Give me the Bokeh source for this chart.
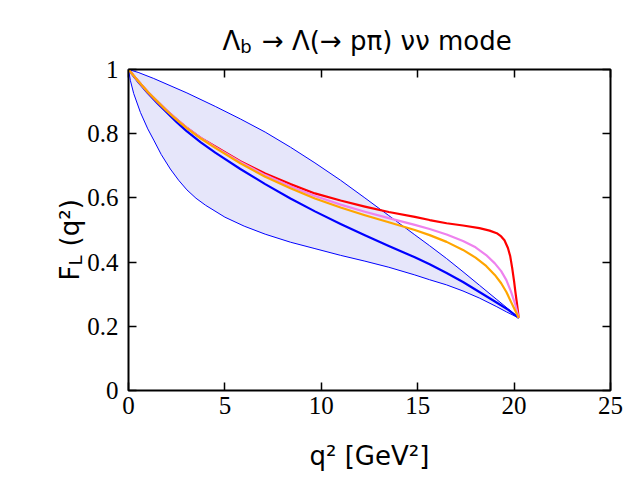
import math
from bokeh.plotting import figure
from bokeh.models import Range1d, LinearAxis, FixedTicker, Label
from bokeh.embed import file_html
from bokeh.resources import INLINE

# ---------------- data ----------------
x_ticks = [0, 5, 10, 15, 20, 25]
y_ticks = [0, 0.2, 0.4, 0.6, 0.8, 1.0]
y_tick_labels = ["0", "0.2", "0.4", "0.6", "0.8", "1"]

# band: upper edge
band_hi_q2 = [0, 0.5, 1.31, 3.03, 4.5, 5.8, 7.09, 8.4, 9.67, 11.0, 12.26, 13.5,
              14.85, 15.62, 16.5, 17.35, 18.2, 19.07, 19.7, 20.24]
band_hi_fl = [1.0, 0.991, 0.972, 0.927, 0.885, 0.846, 0.805, 0.758, 0.709, 0.655,
              0.600, 0.545, 0.485, 0.451, 0.411, 0.370, 0.328, 0.285, 0.254, 0.226]

# band: lower edge
band_lo_q2 = [0, 0.1, 0.27, 0.62, 1.0, 1.31, 1.7, 2.17, 2.6, 3.03, 3.5, 4.0, 5.0,
              6.0, 7.09, 8.4, 9.67, 11.0, 12.26, 13.5, 14.85, 15.62, 16.5, 17.35,
              18.2, 19.07, 19.6, 20.24]
band_lo_fl = [1.0, 0.965, 0.925, 0.866, 0.815, 0.78, 0.735, 0.69, 0.655, 0.625,
              0.599, 0.577, 0.54, 0.512, 0.487, 0.462, 0.442, 0.421, 0.403, 0.384,
              0.360, 0.345, 0.329, 0.310, 0.288, 0.262, 0.245, 0.226]

# central blue curve
blue_q2 = [0, 0.5, 1, 1.5, 2, 2.5, 3, 3.75, 4.5, 5.8, 7.09, 8.4, 9.67, 11.0, 12.26,
           13.5, 14.85, 15.62, 16.5, 17.35, 18.2, 19.07, 19.7, 20.24]
blue_fl = [1.0, 0.962, 0.927, 0.895, 0.865, 0.836, 0.809, 0.773, 0.741, 0.69,
           0.643, 0.598, 0.558, 0.519, 0.484, 0.450, 0.415, 0.393, 0.366, 0.338,
           0.307, 0.275, 0.251, 0.226]

# red curve
red_q2 = [0, 0.5, 1, 1.5, 2, 2.5, 3, 3.75, 4.5, 5.8, 7.09, 8.4, 9.67, 11.0, 12.26,
          13.5, 14.85, 15.62, 16.5, 17.35, 18.2, 18.73, 19.1, 19.33, 19.5, 19.68,
          19.8, 19.9, 20.0, 20.06, 20.15, 20.24]
red_fl = [1.0, 0.964, 0.93, 0.9, 0.871, 0.845, 0.82, 0.787, 0.760, 0.714, 0.676,
          0.643, 0.614, 0.592, 0.573, 0.556, 0.541, 0.531, 0.521, 0.514, 0.506,
          0.498, 0.490, 0.480, 0.468, 0.444, 0.418, 0.382, 0.34, 0.310, 0.27, 0.226]

# violet curve
violet_q2 = [0, 0.5, 1, 1.5, 2, 2.5, 3, 3.75, 4.5, 5.8, 7.09, 8.4, 9.67, 11.0,
             12.26, 13.5, 14.85, 15.62, 16.5, 17.35, 18.0, 18.55, 19.0, 19.33,
             19.6, 19.84, 20.05, 20.24]
violet_fl = [1.0, 0.964, 0.93, 0.9, 0.871, 0.845, 0.82, 0.787, 0.758, 0.712,
             0.671, 0.636, 0.606, 0.579, 0.557, 0.537, 0.516, 0.503, 0.486, 0.466,
             0.446, 0.422, 0.396, 0.372, 0.344, 0.308, 0.27, 0.226]

# orange curve
orange_q2 = [0, 0.5, 1, 1.5, 2, 2.5, 3, 3.75, 4.5, 5.8, 7.09, 8.4, 9.67, 11.0,
             12.26, 13.5, 14.85, 15.62, 16.5, 17.35, 18.0, 18.55, 19.0, 19.33,
             19.6, 19.84, 20.05, 20.24]
orange_fl = [1.0, 0.964, 0.93, 0.9, 0.870, 0.843, 0.818, 0.785, 0.756, 0.708,
             0.666, 0.630, 0.598, 0.570, 0.546, 0.524, 0.500, 0.484, 0.463, 0.438,
             0.414, 0.388, 0.360, 0.334, 0.307, 0.276, 0.25, 0.226]

# ---------------- figure ----------------
p = figure(width=640, height=480, output_backend="svg", toolbar_location=None,
           x_range=Range1d(0, 25), y_range=Range1d(0, 1),
           min_border_left=128, min_border_right=30,
           min_border_top=69, min_border_bottom=90)
p.grid.visible = False
p.outline_line_color = "black"
p.outline_line_width = 2
p.background_fill_color = "white"
p.border_fill_color = "white"

TICK_FONT = "Liberation Serif"


def style_axis(ax, ticks, labels=None, show=True):
    ax.ticker = FixedTicker(ticks=ticks)
    ax.axis_line_color = None
    ax.major_tick_in = 8
    ax.major_tick_out = 0
    ax.major_tick_line_width = 1.5
    ax.major_tick_line_color = "black"
    ax.minor_tick_line_color = None
    ax.major_label_text_font = TICK_FONT
    ax.major_label_text_color = "black"
    if show:
        ax.major_label_text_font_size = "25px"
        if labels is not None:
            ax.major_label_overrides = {t: l for t, l in zip(ticks, labels)}
    else:
        ax.major_label_text_font_size = "1px"
        ax.major_label_standoff = 0
        ax.major_label_overrides = {t: "" for t in ticks}


style_axis(p.xaxis[0], x_ticks)
p.xaxis[0].major_label_standoff = 6
style_axis(p.yaxis[0], y_ticks, y_tick_labels)
p.yaxis[0].major_label_standoff = 10

top_axis = LinearAxis()
style_axis(top_axis, x_ticks, show=False)
p.add_layout(top_axis, "above")
right_axis = LinearAxis()
style_axis(right_axis, y_ticks, show=False)
p.add_layout(right_axis, "right")

# band
p.patch(band_hi_q2 + band_lo_q2[::-1], band_hi_fl + band_lo_fl[::-1],
        fill_color="#e6e6fa", line_color=None)
p.line(band_hi_q2, band_hi_fl, line_color="#0000ff", line_width=1)
p.line(band_lo_q2, band_lo_fl, line_color="#0000ff", line_width=1)

# curves
p.line(blue_q2, blue_fl, line_color="#0000ff", line_width=2.2, line_join="round")
p.line(red_q2, red_fl, line_color="#ff0000", line_width=2.2, line_join="round")
p.line(violet_q2, violet_fl, line_color="#ee82ee", line_width=2.2, line_join="round")
p.line(orange_q2, orange_fl, line_color="#ffa500", line_width=2.2, line_join="round")

# ---------------- texts (canvas pixel coordinates, in side panels) ----------------
SANS = "DejaVu Sans"
BIG = 26
SMALL = 18


def lab(x, y, text, side, size=BIG, angle=0.0):
    p.add_layout(Label(x=x, y=y, x_units="canvas", y_units="canvas", text=text,
                       text_font=SANS, text_font_size=f"{size}px",
                       text_color="black", text_align="left",
                       text_baseline="alphabetic", angle=angle), side)


# title: Λ_b → Λ(→ pπ) νν mode  (gap after Λ holds the subscript b)
tx, ty = 222, 40
lab(tx, ty, "Λ\u2007\u2009→ Λ(→ pπ) νν mode", "above")
lab(tx + 0.684 * BIG, ty + 6, "b", "above", SMALL)

# x label
lab(309, 455, "q² [GeV²]", "below")

# y label: F_L (q²), rotated (reads bottom to top)
ang = math.pi / 2
yx, yy = 69, 280
lab(yx, yy, "F\u2007\u200a(q²)", "left", angle=ang)
lab(yx + 6, yy - 0.575 * BIG, "L", "left", SMALL, angle=ang)

open("out.html", "w").write(file_html(p, INLINE))
